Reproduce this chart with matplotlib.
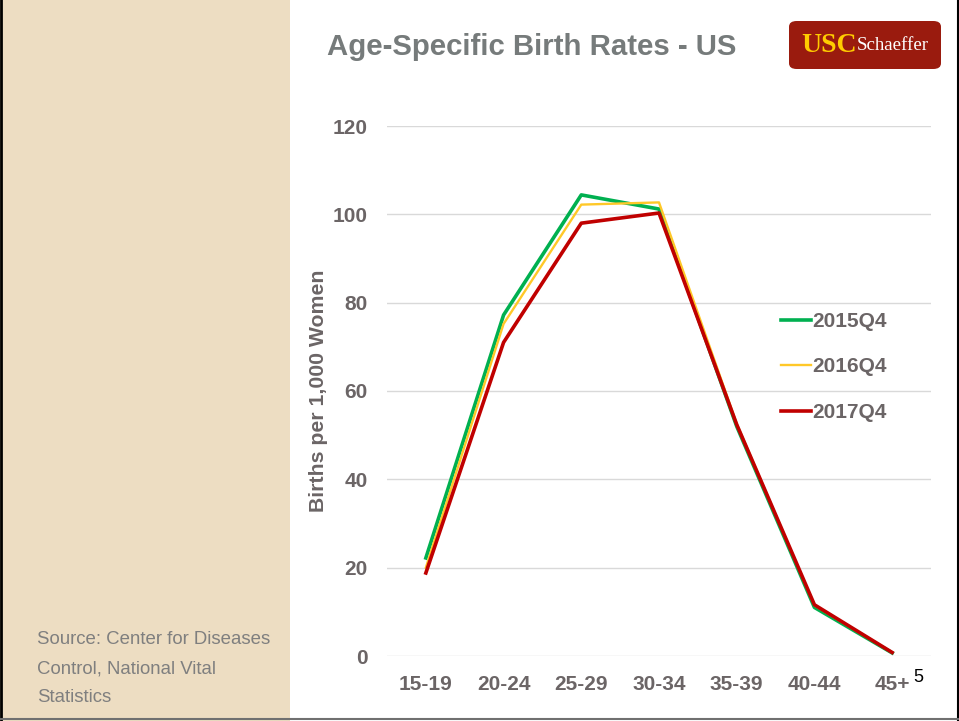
import matplotlib.pyplot as plt
from matplotlib.patches import Rectangle, FancyBboxPatch
from matplotlib.lines import Line2D

plt.rcParams['font.family'] = ['Liberation Sans', 'DejaVu Sans']

# Data
age_groups = ['15-19', '20-24', '25-29', '30-34', '35-39', '40-44', '45+']
rates_2015 = [22.2, 77.2, 104.4, 101.2, 52.0, 11.0, 0.7]
rates_2016 = [20.0, 75.2, 102.2, 102.7, 52.6, 11.5, 0.8]
rates_2017 = [18.8, 71.0, 98.0, 100.3, 52.4, 11.6, 0.8]
yticks = [0, 20, 40, 60, 80, 100, 120]

W, H = 959, 721
fig = plt.figure(figsize=(W / 100, H / 100), dpi=100)
fig.patch.set_facecolor('white')

# beige side panel
fig.add_artist(Rectangle((0, 0), 290 / W, 1, transform=fig.transFigure,
                         facecolor='#EDDDC2', edgecolor='none', zorder=0))

# slide border
fig.add_artist(Line2D([1 / W, 1 / W], [0, 1], transform=fig.transFigure, color='black', lw=2))
fig.add_artist(Line2D([957.5 / W, 957.5 / W], [0, 1], transform=fig.transFigure, color='black', lw=1.5))
fig.add_artist(Line2D([0, 1], [2.5 / H, 2.5 / H], transform=fig.transFigure, color='#707070', lw=1.5))

ax = fig.add_axes([387 / W, 1 - 656 / H, 544 / W, 530 / H])
x = range(len(age_groups))
ax.plot(x, rates_2015, color='#00B050', lw=2.6, label='2015Q4', zorder=3)
ax.plot(x, rates_2016, color='#FFC828', lw=1.7, label='2016Q4', zorder=4)
ax.plot(x, rates_2017, color='#C00000', lw=2.6, label='2017Q4', zorder=5)

ax.set_xlim(-0.5, len(age_groups) - 0.5)
ax.set_ylim(0, 120)
ax.set_yticks(yticks)
ax.set_xticks(list(x))
ax.set_xticklabels(age_groups)
ax.grid(axis='y', color='#D9D9D9', lw=1)
ax.set_axisbelow(True)
for s in ax.spines.values():
    s.set_visible(False)
ax.tick_params(length=0, labelsize=15, labelcolor='#6B6566')
ax.tick_params(axis='y', pad=14)
ax.tick_params(axis='x', pad=14)
for lab in ax.get_xticklabels() + ax.get_yticklabels():
    lab.set_fontweight('bold')
ax.set_ylabel('Births per 1,000 Women', fontsize=15.3, fontweight='bold',
              color='#6B6566', labelpad=3)

leg = ax.legend(loc='upper left', bbox_to_anchor=(781 / W, 1 - 312 / H),
                bbox_transform=fig.transFigure, frameon=False,
                fontsize=15, handlelength=1.45, handletextpad=0.05,
                labelspacing=1.27, borderpad=0, borderaxespad=0)
for t in leg.get_texts():
    t.set_color('#6B6566')
    t.set_fontweight('bold')

# title
fig.text(327 / W, 1 - 47 / H, 'Age-Specific Birth Rates - US', fontsize=21.2,
         fontweight='bold', color='#767B7B', ha='left', va='center')

# logo
fig.add_artist(FancyBboxPatch((789 / W, 1 - 69 / H), 152 / W, 48 / H,
                              boxstyle='round,pad=0,rounding_size=0.008',
                              transform=fig.transFigure, facecolor='#9A1B0E',
                              edgecolor='none'))
fig.text(857 / W, 1 - 46 / H, 'USC', fontsize=20, fontweight='bold',
         family='Liberation Serif', color='#FFCC00', ha='right', va='center')
fig.text(857 / W, 1 - 46 / H, 'Schaeffer', fontsize=13.6,
         family='Liberation Serif', color='white', ha='left', va='center')

# source note
fig.text(37 / W, 1 - 631 / H, 'Source: Center for Diseases\nControl, National Vital\nStatistics',
         fontsize=13.4, color='#7F7F7F', ha='left', va='top', linespacing=1.93)

# page number
fig.text(913 / W, 1 - 678 / H, '5', fontsize=13, color='black', ha='left', va='center')

fig.savefig('out.png', dpi=100)
